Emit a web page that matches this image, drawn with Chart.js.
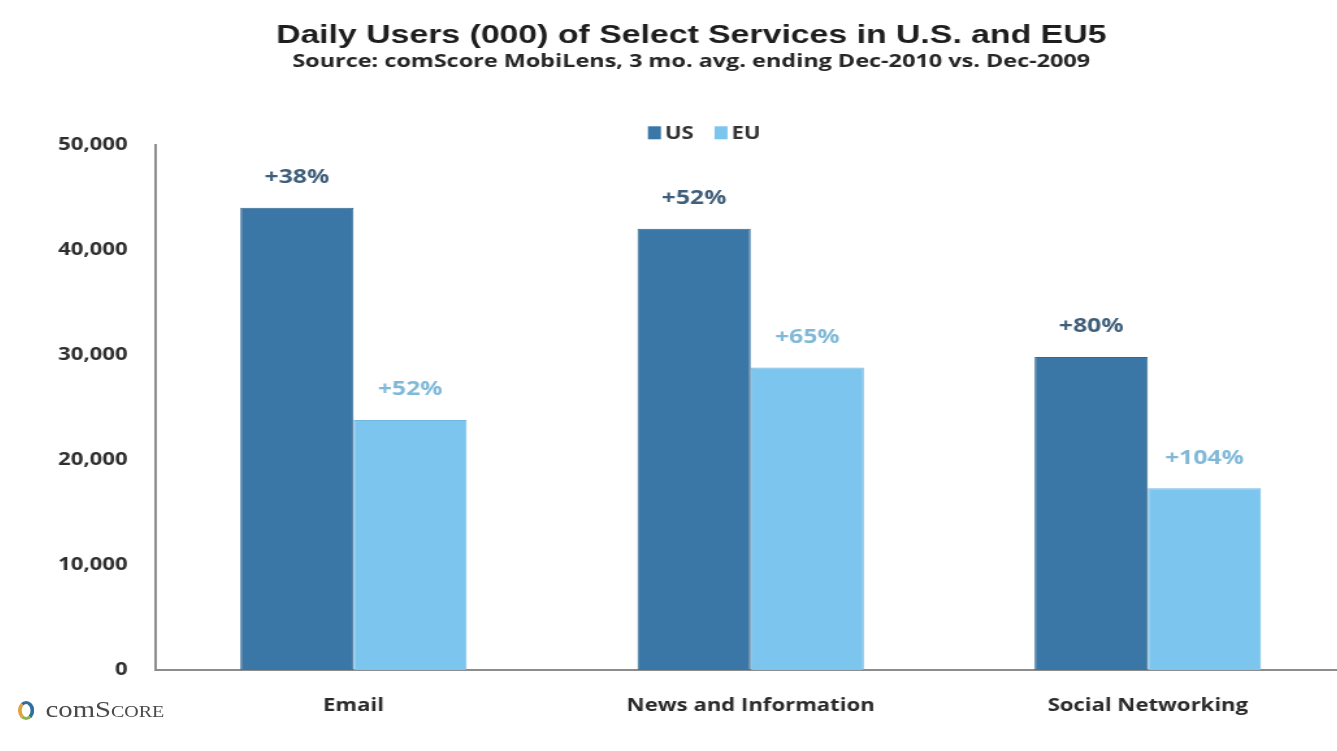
<!DOCTYPE html>
<html>
<head>
<meta charset="utf-8">
<script src="https://cdn.jsdelivr.net/npm/chart.js@4.4.1/dist/chart.umd.min.js"></script>
<style>
  html, body { margin: 0; padding: 0; background: #ffffff; width: 1337px; height: 751px; overflow: hidden; }
  #wrap { position: absolute; left: 36px; top: 0; width: 1008px; height: 751px; transform: scaleX(1.3); transform-origin: 0 0; }
  #logo { position: absolute; left: 18px; top: 697px; font-family: "Liberation Serif", serif; color: #4a4a4a; font-size: 23px; display: flex; align-items: center; transform: scaleX(1.25); transform-origin: 0 0; }
  #logo .ring { width: 13px; height: 19px; border-radius: 50%; border: 3px solid #2e6f9e; border-left-color: #e0a33a; border-bottom-color: #8fb34a; margin-right: 9px; box-sizing: border-box; }
  #logo .sc { font-variant: small-caps; }
</style>
</head>
<body>
<div id="wrap"><canvas id="c" width="1008" height="751"></canvas></div>
<div id="logo"><span class="ring"></span><span>com<span class="sc">Score</span></span></div>
<script>
const categories = ['Email', 'News and Information', 'Social Networking'];
const usValues = [44000, 42000, 29800];
const euValues = [23800, 28800, 17300];
const usChange = ['+38%', '+52%', '+80%'];
const euChange = ['+52%', '+65%', '+104%'];
const yTicks = [0, 10000, 20000, 30000, 40000, 50000];

const US_COLOR = '#3a77a6';
const EU_COLOR = '#7cc5ee';

const changeLabels = {
  id: 'changeLabels',
  afterDatasetsDraw(chart) {
    const ctx = chart.ctx;
    const sets = [
      { labels: usChange, color: '#3f5e7a' },
      { labels: euChange, color: '#80b9d8' }
    ];
    ctx.save();
    ctx.font = '700 19px "Open Sans"';
    ctx.textAlign = 'center';
    ctx.textBaseline = 'middle';
    sets.forEach((s, di) => {
      const meta = chart.getDatasetMeta(di);
      meta.data.forEach((bar, i) => {
        ctx.fillStyle = s.color;
        ctx.fillText(s.labels[i], bar.x, bar.y - 30);
      });
    });
    ctx.restore();
  }
};

const topLegend = {
  id: 'topLegend',
  afterDraw(chart) {
    const ctx = chart.ctx;
    const area = chart.chartArea;
    const items = chart.data.datasets.map(d => ({ text: d.label, color: d.backgroundColor }));
    const boxW = 10, boxH = 13, gapBox = 3, gapItem = 16;
    ctx.save();
    ctx.font = '700 17px "Open Sans"';
    ctx.textBaseline = 'middle';
    ctx.textAlign = 'left';
    let total = 0;
    items.forEach((it, i) => {
      it.w = ctx.measureText(it.text).width;
      total += boxW + gapBox + it.w + (i < items.length - 1 ? gapItem : 0);
    });
    const cx = area.left + area.width * 0.461;
    const cy = area.top - 12;
    let x = cx - total / 2;
    items.forEach(it => {
      ctx.fillStyle = it.color;
      ctx.fillRect(x, cy - boxH / 2, boxW, boxH);
      x += boxW + gapBox;
      ctx.fillStyle = '#333333';
      ctx.fillText(it.text, x, cy + 1);
      x += it.w + gapItem;
    });
    ctx.restore();
  }
};

new Chart(document.getElementById('c'), {
  type: 'bar',
  data: {
    labels: categories,
    datasets: [
      { label: 'US', data: usValues, backgroundColor: US_COLOR, borderColor: '#33698f', borderWidth: 1 },
      { label: 'EU', data: euValues, backgroundColor: EU_COLOR, borderColor: '#70b6dd', borderWidth: 1 }
    ]
  },
  options: {
    responsive: false,
    animation: false,
    devicePixelRatio: 1,
    layout: { padding: { top: 0, right: 0, bottom: 0, left: 0 } },
    datasets: { bar: { barPercentage: 1.0, categoryPercentage: 0.57 } },
    plugins: {
      title: {
        display: true,
        text: 'Daily Users (000) of Select Services in U.S. and EU5',
        font: { family: '"Liberation Sans", Arial, sans-serif', size: 26, weight: 'bold', lineHeight: 1.2 },
        color: '#1e1e1e',
        padding: { top: 20, bottom: 0 }
      },
      subtitle: {
        display: true,
        text: 'Source: comScore MobiLens, 3 mo. avg. ending Dec-2010 vs. Dec-2009',
        font: { family: '"Open Sans", sans-serif', size: 18, weight: 'bold', lineHeight: 1.2 },
        color: '#262626',
        padding: { top: 0, bottom: 72 }
      },
      legend: { display: false },
      tooltip: { enabled: false }
    },
    scales: {
      x: {
        grid: { display: false, drawTicks: false },
        border: { display: true, color: '#8c8c8c', width: 2 },
        ticks: {
          padding: 26,
          color: '#2a2a2a',
          font: { family: '"Open Sans", sans-serif', size: 17, weight: 'bold' }
        },
        afterFit(scale) { scale.height = 81; }
      },
      y: {
        min: 0,
        max: 50000,
        afterBuildTicks(scale) { scale.ticks = yTicks.map(v => ({ value: v })); },
        grid: { display: false, drawTicks: false },
        border: { display: true, color: '#8c8c8c', width: 2 },
        ticks: {
          padding: 21,
          color: '#2e2e2e',
          font: { family: '"Open Sans", sans-serif', size: 17, weight: 'bold' },
          callback: v => v.toLocaleString('en-US')
        },
        afterFit(scale) { scale.width = 91.5; }
      }
    }
  },
  plugins: [changeLabels, topLegend]
});
</script>
</body>
</html>
